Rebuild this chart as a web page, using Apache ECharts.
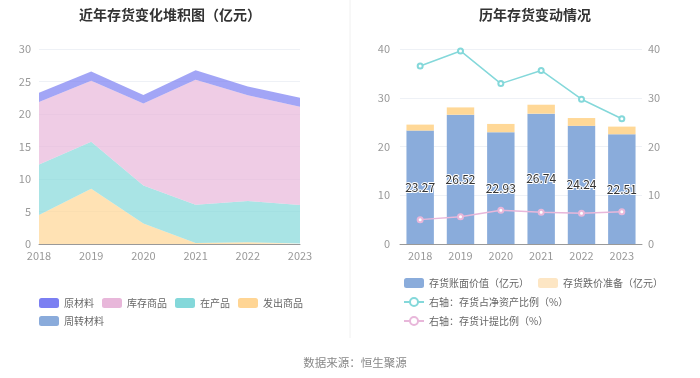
<!DOCTYPE html>
<html><head><meta charset="utf-8">
<script src="https://cdn.jsdelivr.net/npm/echarts@6/dist/echarts.min.js"></script>
<style>html,body{margin:0;padding:0;background:#fff}#c{width:700px;height:378px}</style>
</head><body><div id="c"></div>
<script>
const years = ['2018','2019','2020','2021','2022','2023'];
// Left chart (亿元)
const rawMaterial = [1.42, 1.42, 1.33, 1.47, 1.34, 1.41];      // 原材料
const stockGoods  = [9.60, 9.35, 12.60, 19.25, 16.30, 15.10];  // 库存商品
const wip         = [7.80, 7.24, 5.86, 5.87, 6.33, 5.92];      // 在产品
const shipped     = [4.45, 8.51, 3.14, 0.15, 0.27, 0.08];      // 发出商品
const turnover    = [0, 0, 0, 0, 0, 0];                        // 周转材料
// Right chart
const bookValue   = [23.27, 26.52, 22.93, 26.74, 24.24, 22.51]; // 存货账面价值
const reserve     = [1.22, 1.50, 1.70, 1.83, 1.60, 1.57];       // 存货跌价准备
const ratioNet    = [36.5, 39.6, 32.9, 35.6, 29.7, 25.7];       // 存货占净资产比例
const ratioProv   = [5.0, 5.6, 6.9, 6.5, 6.3, 6.6];             // 存货计提比例
const leftTicks = [0, 30, 5];
const rightTicks = [0, 40, 10];

const FONT = '"Noto Sans CJK SC", "Noto Sans", sans-serif';
const C = {raw:'#7b7ff2', stock:'#e8b7da', wip:'#84d8da', ship:'#ffd594', turn:'#8aabdb',
           bar:'#8aacdb', res:'#ffd897', resLegend:'#fde6c4', line1:'#84d8da', line2:'#e8b7da'};

const chart = echarts.init(document.getElementById('c'), null, {renderer:'canvas'});
const areaS = (name, data, color) => ({
  name, type:'line', stack:'inv', data, xAxisIndex:0, yAxisIndex:0,
  symbol:'none', smooth:false, lineStyle:{width:0}, itemStyle:{color},
  areaStyle:{color, opacity:0.7}, emphasis:{disabled:true}
});
const axisLbl = {color:'#999', fontSize:11, fontFamily:FONT};
chart.setOption({
  animation:false,
  textStyle:{fontFamily:FONT},
  title:[
    {text:'近年存货变化堆积图（亿元）', left:165, top:3, textAlign:'center',
     textStyle:{fontSize:14, fontWeight:'bold', color:'#333', fontFamily:FONT}},
    {text:'历年存货变动情况', left:530, top:3, textAlign:'center',
     textStyle:{fontSize:14, fontWeight:'bold', color:'#333', fontFamily:FONT}},
    {text:'数据来源：恒生聚源', left:350, top:352, textAlign:'center',
     textStyle:{fontSize:11.5, fontWeight:'normal', color:'#888', fontFamily:FONT}}
  ],
  graphic:[{type:'line', shape:{x1:350,y1:0,x2:350,y2:338}, style:{stroke:'#f0f0f0', lineWidth:1}}],
  legend:[
    {left:34, top:293, width:290, itemWidth:20, itemHeight:10, itemGap:8, icon:'roundRect',
     textStyle:{fontSize:10, color:'#666', fontFamily:FONT},
     data:['原材料','库存商品','在产品','发出商品','周转材料']},
    {left:398, top:273, width:290, itemWidth:20, itemHeight:10, itemGap:9,
     textStyle:{fontSize:10, color:'#666', fontFamily:FONT},
     data:[{name:'存货账面价值（亿元）', icon:'roundRect'},
           {name:'存货跌价准备（亿元）', icon:'roundRect', itemStyle:{color:C.resLegend}},
           '右轴：存货占净资产比例（%）','右轴：存货计提比例（%）']}
  ],
  grid:[
    {left:39, right:400, top:49, bottom:134},
    {left:400, right:58, top:49, bottom:134}
  ],
  xAxis:[
    {gridIndex:0, type:'category', data:years, boundaryGap:false,
     axisLine:{lineStyle:{color:'#999'}}, axisTick:{show:false}, axisLabel:Object.assign({margin:6}, axisLbl)},
    {gridIndex:1, type:'category', data:years, boundaryGap:true,
     axisLine:{lineStyle:{color:'#999'}}, axisTick:{show:false}, axisLabel:Object.assign({margin:6}, axisLbl)}
  ],
  yAxis:[
    {gridIndex:0, type:'value', min:leftTicks[0], max:leftTicks[1], interval:leftTicks[2],
     axisLabel:Object.assign({margin:8}, axisLbl), splitLine:{lineStyle:{color:'#eef1f6'}},
     axisLine:{show:false}, axisTick:{show:false}},
    {gridIndex:1, type:'value', min:rightTicks[0], max:rightTicks[1], interval:rightTicks[2],
     axisLabel:Object.assign({margin:10}, axisLbl), splitLine:{lineStyle:{color:'#eef1f6'}},
     axisLine:{show:false}, axisTick:{show:false}},
    {gridIndex:1, type:'value', min:rightTicks[0], max:rightTicks[1], interval:rightTicks[2], position:'right',
     axisLabel:Object.assign({margin:6}, axisLbl), splitLine:{show:false},
     axisLine:{show:false}, axisTick:{show:false}}
  ],
  series:[
    areaS('发出商品', shipped, C.ship),
    areaS('在产品', wip, C.wip),
    areaS('库存商品', stockGoods, C.stock),
    areaS('原材料', rawMaterial, C.raw),
    areaS('周转材料', turnover, C.turn),
    {name:'存货账面价值（亿元）', type:'bar', stack:'bv', xAxisIndex:1, yAxisIndex:1, data:bookValue,
     barWidth:'68%', itemStyle:{color:C.bar},
     label:{show:true, position:'inside', color:'#333', fontSize:12, fontFamily:FONT,
            textBorderColor:'#fff', textBorderWidth:2, formatter:p=>p.value.toFixed(2)}},
    {name:'存货跌价准备（亿元）', type:'bar', stack:'bv', xAxisIndex:1, yAxisIndex:1, data:reserve,
     barWidth:'68%', itemStyle:{color:C.res}},
    {name:'右轴：存货占净资产比例（%）', type:'line', xAxisIndex:1, yAxisIndex:2, data:ratioNet,
     symbol:'emptyCircle', symbolSize:5, lineStyle:{width:1.5, color:C.line1}, itemStyle:{color:C.line1}},
    {name:'右轴：存货计提比例（%）', type:'line', xAxisIndex:1, yAxisIndex:2, data:ratioProv,
     symbol:'emptyCircle', symbolSize:5, lineStyle:{width:1.5, color:C.line2}, itemStyle:{color:C.line2}}
  ]
});
</script></body></html>
